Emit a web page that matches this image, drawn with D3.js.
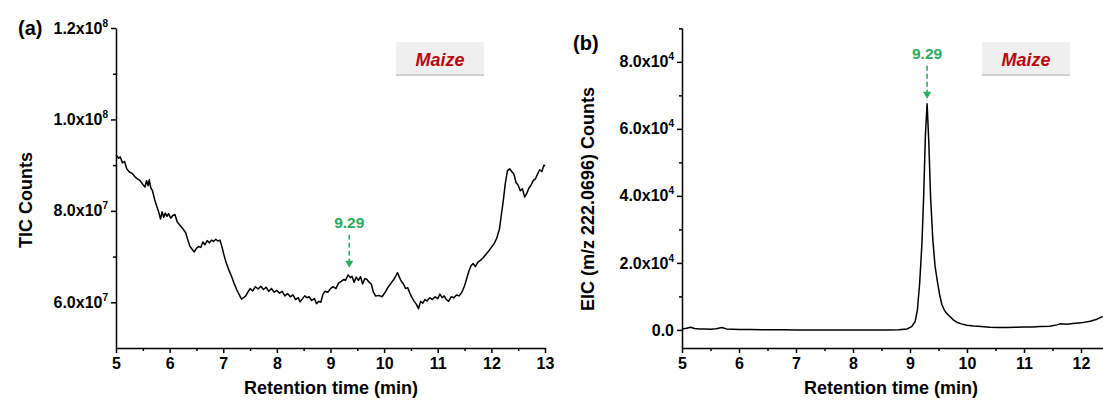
<!DOCTYPE html>
<html>
<head>
<meta charset="utf-8">
<script src="https://cdn.jsdelivr.net/npm/d3@7"></script>
<style>
    body { margin: 0; background: #fff; }
    text { font-family: "Liberation Sans", Arial, sans-serif; font-weight: bold; }
    .tick line, .domain { stroke: #000; stroke-width: 1.5px; }
</style>
</head>
<body>
<div id="chart"></div>
<script>
//----------------------------
// Data
//----------------------------
// Panel (a): TIC trace, counts in units of 1e7
var ticTime = [5.00, 5.05, 5.08, 5.12, 5.16, 5.20, 5.25, 5.30, 5.35, 5.40, 5.45, 5.50, 5.54, 5.57, 5.60, 5.62, 5.65, 5.68,
    5.72, 5.76, 5.80, 5.83, 5.86, 5.89, 5.92, 5.95, 5.98, 6.02, 6.06, 6.10, 6.14, 6.18, 6.24, 6.30, 6.34, 6.38, 6.42,
    6.46, 6.50, 6.54, 6.58, 6.62, 6.66, 6.70, 6.74, 6.78, 6.82, 6.86, 6.90, 6.94, 6.97, 7.01, 7.05, 7.10, 7.15, 7.20,
    7.25, 7.30, 7.34, 7.38, 7.42, 7.46, 7.50, 7.55, 7.60, 7.65, 7.70, 7.75, 7.80, 7.85, 7.90, 7.95, 8.00, 8.05, 8.10,
    8.15, 8.20, 8.25, 8.30, 8.35, 8.40, 8.43, 8.48, 8.52, 8.56, 8.60, 8.65, 8.70, 8.74, 8.78, 8.82, 8.86, 8.90, 8.95,
    9.00, 9.05, 9.10, 9.15, 9.20, 9.25, 9.28, 9.33, 9.37, 9.40, 9.44, 9.48, 9.52, 9.56, 9.60, 9.64, 9.68, 9.72, 9.76,
    9.80, 9.84, 9.90, 9.96, 10.02, 10.08, 10.13, 10.18, 10.22, 10.25, 10.28, 10.32, 10.36, 10.40, 10.44, 10.48, 10.52,
    10.56, 10.60, 10.64, 10.68, 10.72, 10.76, 10.80, 10.85, 10.90, 10.95, 11.00, 11.04, 11.08, 11.12, 11.16, 11.20,
    11.25, 11.30, 11.35, 11.40, 11.45, 11.50, 11.54, 11.58, 11.62, 11.66, 11.70, 11.75, 11.80, 11.85, 11.90, 11.95,
    12.00, 12.05, 12.10, 12.15, 12.18, 12.22, 12.26, 12.30, 12.34, 12.38, 12.42, 12.46, 12.50, 12.54, 12.58, 12.62,
    12.66, 12.70, 12.74, 12.78, 12.82, 12.86, 12.90, 12.94, 12.98, 13.00];
var ticCounts = [9.22, 9.15, 9.18, 9.05, 9.08, 8.92, 8.85, 8.82, 8.75, 8.70, 8.66, 8.58, 8.52, 8.66, 8.55, 8.68, 8.50, 8.44,
    8.25, 8.10, 7.96, 7.82, 7.98, 7.86, 7.95, 7.88, 7.94, 7.84, 7.90, 7.92, 7.76, 7.70, 7.62, 7.52, 7.36, 7.22, 7.16,
    7.10, 7.18, 7.22, 7.20, 7.32, 7.26, 7.35, 7.30, 7.36, 7.33, 7.38, 7.34, 7.36, 7.24, 7.05, 6.88, 6.72, 6.58, 6.42,
    6.28, 6.16, 6.07, 6.10, 6.14, 6.22, 6.30, 6.25, 6.34, 6.29, 6.35, 6.28, 6.33, 6.24, 6.30, 6.22, 6.26, 6.20, 6.24,
    6.14, 6.19, 6.12, 6.16, 6.06, 6.10, 6.01, 6.08, 6.14, 6.10, 6.12, 6.04, 6.08, 5.97, 6.02, 6.00, 6.18, 6.24, 6.22,
    6.30, 6.34, 6.30, 6.42, 6.46, 6.50, 6.48, 6.60, 6.54, 6.57, 6.44, 6.55, 6.48, 6.56, 6.40, 6.52, 6.50, 6.44, 6.40,
    6.22, 6.14, 6.15, 6.12, 6.22, 6.34, 6.42, 6.50, 6.58, 6.65, 6.56, 6.46, 6.40, 6.30, 6.32, 6.20, 6.10,
    6.02, 5.96, 5.86, 6.02, 5.98, 6.06, 6.03, 6.10, 6.06, 6.12, 6.08, 6.18, 6.10, 6.14, 6.06, 6.02,
    6.12, 6.10, 6.16, 6.14, 6.22, 6.36, 6.52, 6.68, 6.80, 6.85, 6.78, 6.88, 6.92, 6.98, 7.05, 7.12,
    7.20, 7.28, 7.40, 7.60, 7.86, 8.20, 8.60, 8.88, 8.92, 8.86, 8.80, 8.62, 8.56, 8.44, 8.48, 8.30,
    8.38, 8.50, 8.56, 8.66, 8.70, 8.80, 8.90, 8.86, 9.00, 8.98].map(v => v * 1e7);

// Panel (b): EIC trace for m/z 222.0696
var eicTime = [5.00, 5.08, 5.15, 5.22, 5.30, 5.40, 5.50, 5.60, 5.70, 5.78, 5.90, 6.00, 6.20, 6.40, 6.60, 6.80, 7.00,
    7.20, 7.40, 7.60, 7.80, 8.00, 8.20, 8.40, 8.60, 8.80, 8.95, 9.03, 9.09, 9.13, 9.17, 9.21, 9.24, 9.27, 9.30, 9.33,
    9.36, 9.40, 9.44, 9.48, 9.52, 9.56, 9.60, 9.64, 9.70, 9.76, 9.82, 9.90, 10.00, 10.11, 10.25, 10.40, 10.55, 10.70,
    10.85, 11.00, 11.15, 11.28, 11.45, 11.58, 11.63, 11.75, 11.86, 12.00, 12.16, 12.28, 12.38];
var eicCounts = [300, 500, 800, 400, 300, 250, 200, 350, 700, 300, 200, 150, 100, 80, 50, 30, 0,
    -20, -30, -50, -40, -60, -50, -40, -20, 50, 300, 1000, 2500, 6000, 14000, 26000, 40000, 58000, 67500, 56000,
    40000, 27000, 19000, 14500, 10500, 7500, 6000, 5000, 4000, 3000, 2300, 1800, 1400, 1200, 1000, 800, 750, 700,
    800, 850, 900, 1000, 1100, 1500, 1800, 1700, 1900, 2100, 2600, 3200, 4000];

// Tick values
var timeTicks = [5, 6, 7, 8, 9, 10, 11, 12, 13];
var ticMajorTicks = [6e7, 8e7, 1e8, 1.2e8];
var ticMinorTicks = [7e7, 9e7, 1.1e8];
var eicMajorTicks = [0, 2e4, 4e4, 6e4, 8e4];
var eicMinorTicks = [1e4, 3e4, 5e4, 7e4, 9e4];

// Peak annotation: [retention time, counts at apex]
var peakLabel = "9.29";
var ticPeak = [9.35, 6.6e7];
var eicPeak = [9.30, 67500];
var sampleName = "Maize";

//----------------------------
// Layout
//----------------------------
var width = 1103, height = 403;
var plotTop = 28, plotBottom = 348;

var svg = d3.select("#chart")
    .append("svg")
    .attr("width", width)
    .attr("height", height);

svg.append("rect").attr("width", width).attr("height", height).attr("fill", "#fff");

var green = "#2bab62";

// split a value into mantissa "1.2x10" and exponent "8"
function sciParts(v) {
    if (v === 0) return ["0.0", ""];
    var e = Math.floor(Math.log10(v) + 1e-9);
    return [(v / Math.pow(10, e)).toFixed(1) + "x10", String(e)];
}

//----------------------------
// Draw one panel
//----------------------------
function drawPanel(p) {
    var x = d3.scaleLinear().domain(p.xDomain).range(p.xRange);
    var y = d3.scaleLinear().domain(p.yDomain).range([plotBottom, plotTop]);

    var g = svg.append("g");

    // trace
    var data = p.time.map((t, i) => [t, p.counts[i]]);
    g.append("path")
        .datum(data)
        .attr("fill", "none")
        .attr("stroke", "#000")
        .attr("stroke-width", 1.5)
        .attr("stroke-linejoin", "round")
        .attr("d", d3.line().x(d => x(d[0])).y(d => y(d[1])));

    // x axis: major and minor ticks
    var xMinor = d3.range(p.xDomain[0] + 0.5, p.xDomain[1], 1);
    g.append("g")
        .attr("transform", "translate(0," + plotBottom + ")")
        .call(d3.axisBottom(x).tickValues(xMinor).tickSize(3).tickFormat(""))
        .call(a => a.select(".domain").remove());

    var xAxis = g.append("g")
        .attr("transform", "translate(0," + plotBottom + ")")
        .call(d3.axisBottom(x).tickValues(p.xTicks).tickSize(5).tickSizeOuter(0).tickFormat(d3.format("d")));
    xAxis.selectAll("text")
        .attr("font-size", 16)
        .attr("y", 10)
        .attr("fill", "#000");

    // y axis: minor ticks then major with scientific labels
    g.append("g")
        .attr("transform", "translate(" + p.xRange[0] + ",0)")
        .call(d3.axisLeft(y).tickValues(p.yMinor).tickSize(3).tickFormat(""))
        .call(a => a.select(".domain").remove());

    var yAxis = g.append("g")
        .attr("transform", "translate(" + p.xRange[0] + ",0)")
        .call(d3.axisLeft(y).tickValues(p.yMajor).tickSize(5).tickSizeOuter(0).tickFormat(""));
    yAxis.selectAll(".tick text")
        .attr("x", -8)
        .attr("fill", "#000")
        .attr("font-size", 16)
        .each(function (d) {
            var parts = sciParts(d);
            var t = d3.select(this);
            t.append("tspan").text(parts[0]);
            if (parts[1]) {
                t.append("tspan").attr("dy", -7).attr("font-size", 10).text(parts[1]);
            }
        });

    // axis titles
    svg.append("text")
        .attr("x", p.xTitleX)
        .attr("y", 394)
        .attr("text-anchor", "middle")
        .attr("font-size", 18)
        .text("Retention time (min)");

    svg.append("text")
        .attr("transform", "translate(" + p.yTitleX + "," + p.yTitleY + ") rotate(-90)")
        .attr("text-anchor", "middle")
        .attr("font-size", 18)
        .text(p.yTitle);

    // panel letter
    svg.append("text")
        .attr("x", p.letterX)
        .attr("y", p.letterY)
        .attr("font-size", 20)
        .text(p.letter);

    // sample badge
    var badge = svg.append("g").attr("transform", "translate(" + p.badgeX + ",42)");
    badge.append("rect").attr("y", 31).attr("width", 88).attr("height", 3).attr("fill", "#cfcfcf");
    badge.append("rect").attr("width", 88).attr("height", 32).attr("fill", "#efefef");
    badge.append("text")
        .attr("x", 44)
        .attr("y", 24)
        .attr("text-anchor", "middle")
        .attr("font-size", 18)
        .attr("font-style", "italic")
        .attr("fill", "#b8080f")
        .text(sampleName);

    // peak annotation (dashed green arrow)
    var ax = x(p.peak[0]);
    var tipY = y(p.peak[1]) - p.tipGap;
    svg.append("text")
        .attr("x", ax)
        .attr("y", tipY - 40)
        .attr("text-anchor", "middle")
        .attr("font-size", 15.5)
        .attr("fill", green)
        .text(peakLabel);
    svg.append("line")
        .attr("x1", ax).attr("x2", ax)
        .attr("y1", tipY - 33).attr("y2", tipY - 6)
        .attr("stroke", green)
        .attr("stroke-width", 1.6)
        .attr("stroke-dasharray", "5,3");
    svg.append("path")
        .attr("d", "M" + (ax - 4) + "," + (tipY - 7) + "L" + (ax + 4) + "," + (tipY - 7) + "L" + ax + "," + tipY + "Z")
        .attr("fill", green);
}

drawPanel({
    time: ticTime, counts: ticCounts,
    xDomain: [5, 13], xRange: [116, 545], xTicks: timeTicks,
    yDomain: [5e7, 1.2e8], yMajor: ticMajorTicks, yMinor: ticMinorTicks,
    yTitle: "TIC Counts", yTitleX: 32, yTitleY: 200,
    xTitleX: 331, letter: "(a)", letterX: 18, letterY: 35,
    badgeX: 396, peak: ticPeak, tipGap: 7
});

drawPanel({
    time: eicTime, counts: eicCounts,
    xDomain: [5, 13], xRange: [682, 1138], xTicks: timeTicks.slice(0, 8),
    yDomain: [-5400, 90100], yMajor: eicMajorTicks, yMinor: eicMinorTicks,
    yTitle: "EIC (m/z 222.0696) Counts", yTitleX: 594, yTitleY: 199,
    xTitleX: 891, letter: "(b)", letterX: 573, letterY: 50,
    badgeX: 982, peak: eicPeak, tipGap: 5
});
</script>
</body>
</html>
